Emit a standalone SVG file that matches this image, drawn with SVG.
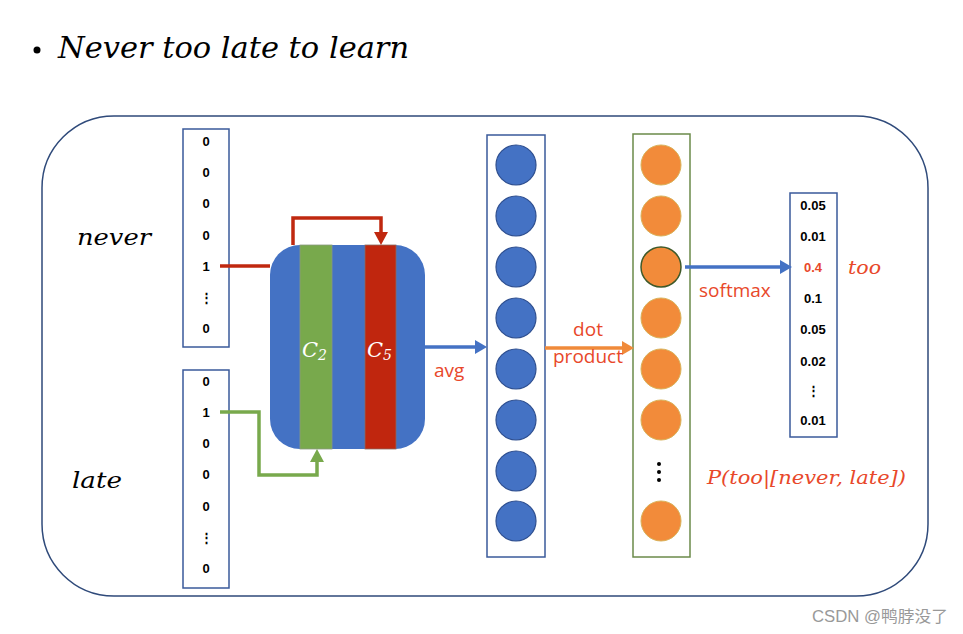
<svg xmlns="http://www.w3.org/2000/svg" width="963" height="634" viewBox="0 0 963 634">
<defs>
<style>
.num{font-family:"Liberation Sans",Arial,sans-serif;font-weight:bold;font-size:13px;fill:#000;text-anchor:middle}
.it{font-family:"DejaVu Serif","Liberation Serif",serif;font-style:italic}
.lbl{font-family:"Open Sans","Liberation Sans",sans-serif;font-size:19px;fill:#E8482A}
.vec{fill:#fff;stroke:#3A5A9A;stroke-width:1.5}
.bc{fill:#4472C4;stroke:#2F4F8F;stroke-width:1.2}
.oc{fill:#F28B3A;stroke:#D9B25A;stroke-width:1}
</style>
</defs>
<rect width="963" height="634" fill="#fff"/>
<g id="title">
<circle cx="37" cy="50" r="3.5" fill="#000"/>
<text x="58" y="58" class="it" font-size="29" textLength="351" lengthAdjust="spacingAndGlyphs" fill="#000">Never too late to learn</text>
</g>
<g id="frame"><rect x="42" y="116" width="886" height="480" rx="72" ry="72" fill="none" stroke="#2F4A7A" stroke-width="1.5"/></g>
<g id="word-never"><text x="77" y="245" class="it" font-size="23" textLength="74" lengthAdjust="spacingAndGlyphs">never</text></g>
<g id="word-late"><text x="72" y="488" class="it" font-size="23" textLength="50" lengthAdjust="spacingAndGlyphs">late</text></g>
<g id="vec-never">
<rect x="183" y="129" width="46" height="218" class="vec"/>
<text x="206" y="146" class="num">0</text>
<text x="206" y="177" class="num">0</text>
<text x="206" y="208" class="num">0</text>
<text x="206" y="240" class="num">0</text>
<text x="206" y="271" class="num">1</text>
<text x="206" y="302" class="num" font-size="10">⋮</text>
<text x="206" y="333" class="num">0</text>
</g>
<g id="vec-late">
<rect x="183" y="370" width="46" height="218" class="vec"/>
<text x="206" y="386" class="num">0</text>
<text x="206" y="417" class="num">1</text>
<text x="206" y="448" class="num">0</text>
<text x="206" y="479" class="num">0</text>
<text x="206" y="511" class="num">0</text>
<text x="206" y="542" class="num" font-size="10">⋮</text>
<text x="206" y="573" class="num">0</text>
</g>
<g id="conv">
<rect x="270" y="245" width="155" height="204" rx="30" ry="30" fill="#4472C4"/>
<rect x="300" y="245" width="32" height="204" fill="#78A94C" stroke="#8A9A80" stroke-width="0.8"/>
<rect x="365" y="245" width="31" height="204" fill="#C0260E" stroke="#8A6A60" stroke-width="0.8"/>
<text x="302" y="357" class="it" font-size="21" fill="#fff">C<tspan font-size="14" dy="3">2</tspan></text>
<text x="367" y="357" class="it" font-size="21" fill="#fff">C<tspan font-size="14" dy="3">5</tspan></text>
</g>
<g id="embed">
<rect x="487" y="135" width="58" height="422" class="vec"/>
<circle cx="516" cy="165" r="20" class="bc"/>
<circle cx="516" cy="216" r="20" class="bc"/>
<circle cx="516" cy="267" r="20" class="bc"/>
<circle cx="516" cy="318" r="20" class="bc"/>
<circle cx="516" cy="369" r="20" class="bc"/>
<circle cx="516" cy="420" r="20" class="bc"/>
<circle cx="516" cy="471" r="20" class="bc"/>
<circle cx="516" cy="521" r="20" class="bc"/>
</g>
<g id="scores">
<rect x="633" y="134" width="57" height="423" fill="#fff" stroke="#6B8A4A" stroke-width="1.5"/>
<circle cx="661" cy="165" r="20" class="oc"/>
<circle cx="661" cy="216" r="20" class="oc"/>
<circle cx="661" cy="267" r="20" fill="#F28B3A" stroke="#3F5A2A" stroke-width="1.5"/>
<circle cx="661" cy="318" r="20" class="oc"/>
<circle cx="661" cy="369" r="20" class="oc"/>
<circle cx="661" cy="420" r="20" class="oc"/>
<circle cx="659" cy="464" r="2" fill="#000"/>
<circle cx="659" cy="472" r="2" fill="#000"/>
<circle cx="659" cy="480" r="2" fill="#000"/>
<circle cx="661" cy="521" r="20" class="oc"/>
</g>
<g id="probs">
<rect x="790" y="193" width="47" height="244" class="vec"/>
<text x="813" y="210" class="num">0.05</text>
<text x="813" y="241" class="num">0.01</text>
<text x="813" y="272" class="num" style="fill:#E8482A">0.4</text>
<text x="813" y="303" class="num">0.1</text>
<text x="813" y="334" class="num">0.05</text>
<text x="813" y="366" class="num">0.02</text>
<text x="813" y="395" class="num" font-size="10">⋮</text>
<text x="813" y="425" class="num">0.01</text>
</g>
<g id="word-too"><text x="848" y="274" class="it" font-size="19" fill="#E8482A" textLength="33" lengthAdjust="spacingAndGlyphs">too</text></g>
<g id="formula"><text x="707" y="484" class="it" font-size="19" fill="#E8482A" textLength="199" lengthAdjust="spacingAndGlyphs">P(too|[never, late])</text></g>
<g id="connectors" fill="none">
<path d="M220,266 H270" stroke="#C0280F" stroke-width="3.5"/>
<path d="M293,245 V218 H381 V233" stroke="#C0280F" stroke-width="3.5"/>
<path d="M374,232 L388,232 L381,245 Z" fill="#C0280F"/>
<path d="M220,412 H259 V475 H317 V461" stroke="#78A94C" stroke-width="3.5"/>
<path d="M310,462 L324,462 L317,449 Z" fill="#78A94C"/>
<path d="M425,347 H476" stroke="#4472C4" stroke-width="3.5"/>
<path d="M475,340 L487,347 L475,354 Z" fill="#4472C4"/>
<path d="M545,348 H624" stroke="#F08A3A" stroke-width="3.5"/>
<path d="M622,341 L634,348 L622,355 Z" fill="#F08A3A"/>
<path d="M685,267 H782" stroke="#4472C4" stroke-width="3.5"/>
<path d="M780,260 L792,267 L780,274 Z" fill="#4472C4"/>
</g>
<g id="labels">
<text x="434" y="377" class="lbl">avg</text>
<text x="588" y="336" class="lbl" text-anchor="middle">dot</text>
<text x="588" y="363" class="lbl" text-anchor="middle">product</text>
<text x="699" y="297" class="lbl">softmax</text>
</g>
<g id="watermark"><text x="812" y="622" font-family="Liberation Sans,'Noto Sans CJK SC',sans-serif" font-size="16" fill="#999" textLength="136" lengthAdjust="spacingAndGlyphs">CSDN @鸭脖没了</text></g>
</svg>
